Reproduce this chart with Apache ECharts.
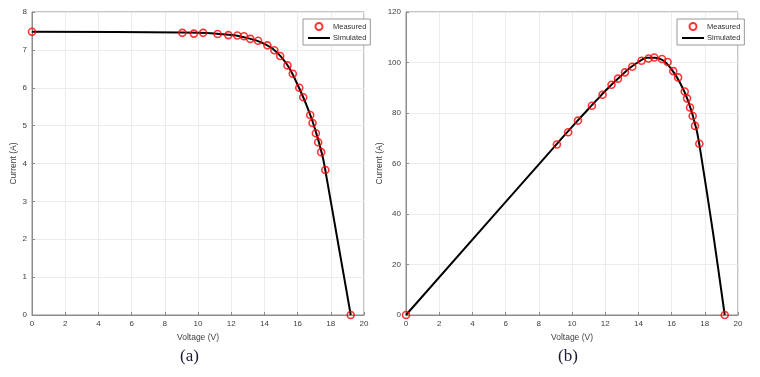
<!DOCTYPE html>
<html>
<head>
<meta charset="utf-8">
<script src="https://cdn.jsdelivr.net/npm/echarts@6/dist/echarts.min.js"></script>
<style>
  html, body { margin: 0; padding: 0; background: #fff; }
  #chart { width: 760px; height: 377px; }
</style>
</head>
<body>
<div id="chart"></div>
<script>
// measured points
const measV = [0, 9.06, 9.75, 10.31, 11.18, 11.83, 12.37, 12.77, 13.15, 13.62, 14.18, 14.6, 14.95,
  15.39, 15.71, 16.1, 16.34, 16.76, 16.9, 17.1, 17.24, 17.42, 17.67, 19.2];
const measI = [7.48, 7.45, 7.43, 7.45, 7.42, 7.39, 7.38, 7.36, 7.29, 7.24, 7.12, 6.99, 6.84,
  6.59, 6.37, 6.0, 5.75, 5.28, 5.07, 4.8, 4.56, 4.3, 3.83, 0];
const measPV = [0, 9.09, 9.77, 10.36, 11.2, 11.84, 12.38, 12.77, 13.19, 13.63, 14.19, 14.61, 14.96,
  15.42, 15.76, 16.1, 16.39, 16.79, 16.93, 17.11, 17.27, 17.41, 17.67, 19.2];
const measP = [0, 67.5, 72.4, 77.0, 82.9, 87.2, 91.2, 93.6, 96.1, 98.3, 100.7, 101.6, 102.0,
  101.4, 100.2, 96.6, 94.1, 88.5, 85.8, 82.2, 78.8, 74.9, 67.8, 0];

// simulated curve
const simV = [0, 9, 10, 11, 11.5, 12, 12.5, 13, 13.5, 14, 14.5, 15, 15.5, 16, 16.5, 17, 17.5, 17.75, 18.5, 19.2];
const simI = [7.48, 7.46, 7.45, 7.43, 7.41, 7.39, 7.36, 7.31, 7.25, 7.16, 7.03, 6.82, 6.52, 6.08, 5.58, 4.98, 4.2, 3.62, 1.75, 0];
const simP = [0, 67.1, 74.5, 81.7, 85.2, 88.7, 92.0, 95.0, 97.9, 100.2, 101.9, 101.9, 100.8, 97.3, 92.1, 84.7, 73.5, 64.3, 32.4, 0];

const pairs = (xs, ys) => xs.map((x, i) => [x, ys[i]]);

const chart = echarts.init(document.getElementById("chart"));

const axisGray = "#8c8c8c";
const labelColor = "#404040";
const font = "Liberation Sans, Arial, sans-serif";

const xAxisBase = {
  type: "value",
  min: 0,
  max: 20,
  interval: 2,
  name: "Voltage (V)",
  nameLocation: "middle",
  nameGap: 17,
  nameTextStyle: { fontSize: 8.5, color: labelColor, fontFamily: font },
  axisLine: { show: true, onZero: false, lineStyle: { color: axisGray, width: 1 } },
  axisTick: { show: true, inside: true, length: 3, lineStyle: { color: axisGray } },
  axisLabel: { fontSize: 8, color: labelColor, fontFamily: font, margin: 5 },
  splitLine: { show: true, lineStyle: { color: "#ebebeb", width: 1 } },
};

const yAxisBase = {
  type: "value",
  name: "Current (A)",
  nameLocation: "middle",
  nameTextStyle: { fontSize: 8.5, color: labelColor, fontFamily: font },
  axisLine: { show: true, onZero: false, lineStyle: { color: axisGray, width: 1 } },
  axisTick: { show: true, inside: true, length: 3, lineStyle: { color: axisGray } },
  axisLabel: { fontSize: 8, color: labelColor, fontFamily: font, margin: 5 },
  splitLine: { show: true, lineStyle: { color: "#ebebeb", width: 1 } },
};

const legendBase = {
  orient: "vertical",
  top: 19,
  itemWidth: 22,
  itemHeight: 7,
  itemGap: 3,
  padding: [3, 4, 3, 4],
  backgroundColor: "#fff",
  borderColor: "#999",
  borderWidth: 1,
  borderRadius: 0,
  textStyle: { fontSize: 7.5, color: "#333", fontFamily: font, padding: [0, 0, 0, -2] },
  data: [
    "Measured",
    { name: "Simulated", itemStyle: { color: "rgba(0,0,0,0)", borderWidth: 0 } },
  ],
  selectedMode: false,
};

const measuredStyle = {
  type: "scatter",
  name: "Measured",
  symbol: "circle",
  symbolSize: 7,
  itemStyle: { color: "rgba(255,255,255,0)", borderColor: "#ff0000", borderWidth: 1.6 },
  z: 3,
};

const simulatedStyle = {
  type: "line",
  name: "Simulated",
  symbol: "none",
  smooth: 0.3,
  lineStyle: { color: "#000", width: 2 },
  itemStyle: { color: "#000" },
  z: 2,
};

const option = {
  backgroundColor: "#fff",
  animation: false,
  grid: [
    { left: 32, right: 396, top: 12, bottom: 62, show: true, borderColor: axisGray, borderWidth: 1 },
    { left: 406, right: 22, top: 12, bottom: 62, show: true, borderColor: axisGray, borderWidth: 1 },
  ],
  xAxis: [
    { ...xAxisBase, gridIndex: 0 },
    { ...xAxisBase, gridIndex: 1 },
  ],
  yAxis: [
    { ...yAxisBase, gridIndex: 0, min: 0, max: 8, interval: 1, nameGap: 11 },
    { ...yAxisBase, gridIndex: 1, min: 0, max: 120, interval: 20, nameGap: 18 },
  ],
  legend: [
    { ...legendBase, left: 303 },
    { ...legendBase, left: 677 },
  ],
  graphic: [
    { type: "text", left: 180, top: 348, style: { text: "(a)", fontSize: 17, fontFamily: "Liberation Serif, Times New Roman, serif", fill: "#1a1a33" } },
    { type: "text", left: 558, top: 348, style: { text: "(b)", fontSize: 17, fontFamily: "Liberation Serif, Times New Roman, serif", fill: "#1a1a33" } },
  ],
  series: [
    { ...simulatedStyle, xAxisIndex: 0, yAxisIndex: 0, data: pairs(simV, simI) },
    { ...measuredStyle, xAxisIndex: 0, yAxisIndex: 0, data: pairs(measV, measI) },
    { ...simulatedStyle, xAxisIndex: 1, yAxisIndex: 1, data: pairs(simV, simP) },
    { ...measuredStyle, xAxisIndex: 1, yAxisIndex: 1, data: pairs(measPV, measP) },
  ],
};

chart.setOption(option);
</script>
</body>
</html>
